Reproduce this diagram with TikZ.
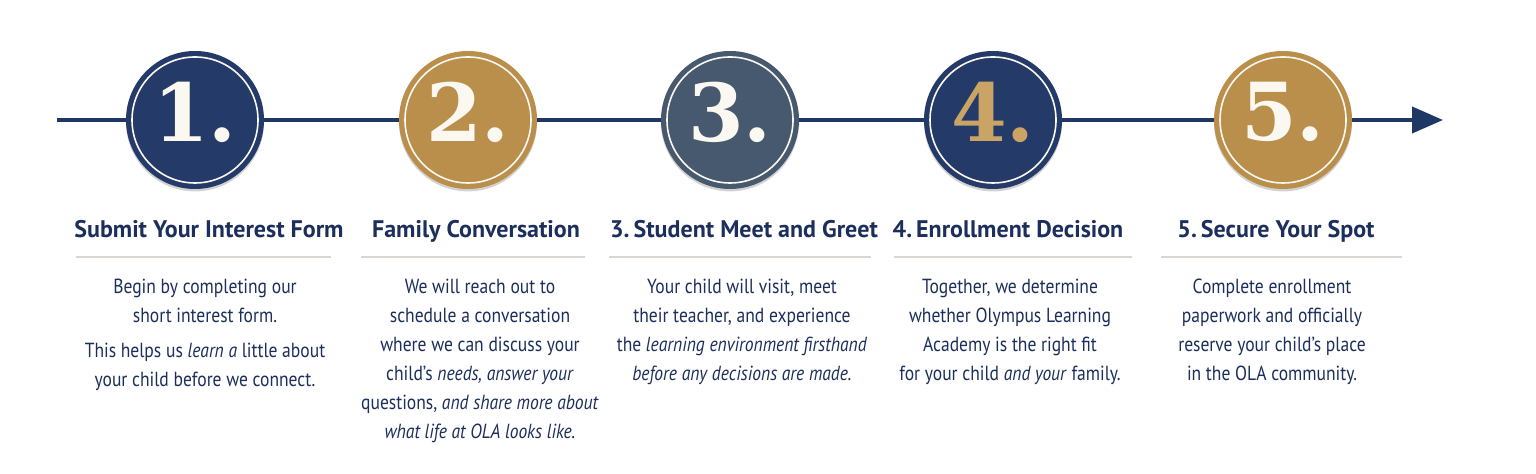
\documentclass[tikz,border=0pt]{standalone}
\usepackage{fontspec}
\usepackage{tikz}
\usetikzlibrary{arrows.meta,positioning,shadows}
\newfontfamily\numfont{DejaVu Serif}
\newfontfamily\headfont{PT Sans}
\newfontfamily\bodyfont[FakeStretch=0.86]{PT Sans}
\definecolor{olanavy}{HTML}{243A68}
\definecolor{olaslate}{HTML}{46596F}
\definecolor{olagold}{HTML}{BA8F4C}
\definecolor{olaline}{HTML}{1E3765}
\definecolor{olatext}{HTML}{1C2E5B}
\definecolor{olarule}{HTML}{DAD6D2}
\definecolor{olacream}{HTML}{FBF8F2}
\definecolor{olaamber}{HTML}{C9A465}
\tikzset{
    stage disc/.style={circle, minimum size=69pt, inner sep=0pt,
        drop shadow={shadow xshift=0pt, shadow yshift=-1.2pt, opacity=0.35}},
    disc navy/.style={stage disc, fill=olanavy},
    disc slate/.style={stage disc, fill=olaslate},
    disc gold/.style={stage disc, fill=olagold},
    ring/.style={circle, draw=olacream, line width=0.8pt, minimum size=63pt, inner sep=0pt},
    numeral/.style={font=\numfont\bfseries\fontsize{40}{40}\selectfont, text=olacream, inner sep=0pt},
    heading/.style={font=\headfont\bfseries\fontsize{12}{14}\selectfont, text=olatext, anchor=base, inner sep=0pt},
    blurb/.style={font=\bodyfont\fontsize{10.2}{14.5}\selectfont, text=olatext, align=center, anchor=north, inner sep=0pt},
    rule/.style={draw=olarule, line width=1.1pt},
    timeline/.style={draw=olaline, line width=2pt}
}
\begin{document}
\begin{tikzpicture}[x=0.5pt, y=-0.5pt]
    \fill[white] (0,0) rectangle (1536,474);
    \useasboundingbox (0,0) rectangle (1536,474);

    % discs along the line
    \node[disc navy]  (c1) at (195,120) {};
    \node[disc gold]  (c2) at (468,120) {};
    \node[disc slate] (c3) at (730,120) {};
    \node[disc navy]  (c4) at (993,120) {};
    \node[disc gold]  (c5) at (1283,120) {};
    \foreach \i in {1,...,5}
        \node[ring] (r\i) at (c\i) {};

    \node[numeral] (n1) at ([yshift=4pt]c1.center) {1.};
    \node[numeral] (n2) at ([yshift=4pt]c2.center) {2.};
    \node[numeral] (n3) at ([yshift=4pt]c3.center) {3.};
    \node[numeral, text=olaamber] (n4) at ([yshift=4pt]c4.center) {4.};
    \node[numeral] (n5) at ([yshift=4pt]c5.center) {5.};

    \coordinate (start) at (57,120);
    \coordinate (end) at (1443,120);
    \draw[timeline] (start) -- (c1);
    \draw[timeline] (c1) -- (c2);
    \draw[timeline] (c2) -- (c3);
    \draw[timeline] (c3) -- (c4);
    \draw[timeline] (c4) -- (c5);
    \draw[timeline, -{Triangle[length=15.5pt, width=13pt]}] (c5) -- (end);

    % titles
    \node[heading] (t1) at (209,238) {Submit Your Interest Form};
    \node[heading] (t2) at (476,238) {Family Conversation};
    \node[heading] (t3) at (744,238) {3.\,Student Meet and Greet};
    \node[heading] (t4) at (1008,238) {4.\,Enrollment Decision};
    \node[heading] (t5) at (1276,238) {5.\,Secure Your Spot};

    \draw[rule] (76,257) -- (331,257);
    \draw[rule] (361,257) -- (585,257);
    \draw[rule] (609,257) -- (871,257);
    \draw[rule] (894,257) -- (1132,257);
    \draw[rule] (1161,257) -- (1402,257);

    % text under each step
    \node[blurb] (d1) at (205,279) {Begin by completing our\\ short interest form.\\[3pt]
        This helps us \textit{learn a} little about\\ your child before we connect.};
    \node[blurb] (d2) at (480,279) {We will reach out to\\ schedule a conversation\\
        where we can discuss your\\ child’s \textit{needs, answer your}\\
        questions, \textit{and share more about}\\ \textit{what life at OLA looks like.}};
    \node[blurb] (d3) at (742,279) {Your child will visit, meet\\ their teacher, and experience\\
        the \textit{learning environment firsthand}\\ \textit{before any decisions are made.}};
    \node[blurb] (d4) at (1010,279) {Together, we determine\\ whether Olympus Learning\\
        Academy is the right fit\\ for your child \textit{and your} family.};
    \node[blurb] (d5) at (1272,279) {Complete enrollment\\ paperwork and officially\\
        reserve your child’s place\\ in the OLA community.};
\end{tikzpicture}
\end{document}
